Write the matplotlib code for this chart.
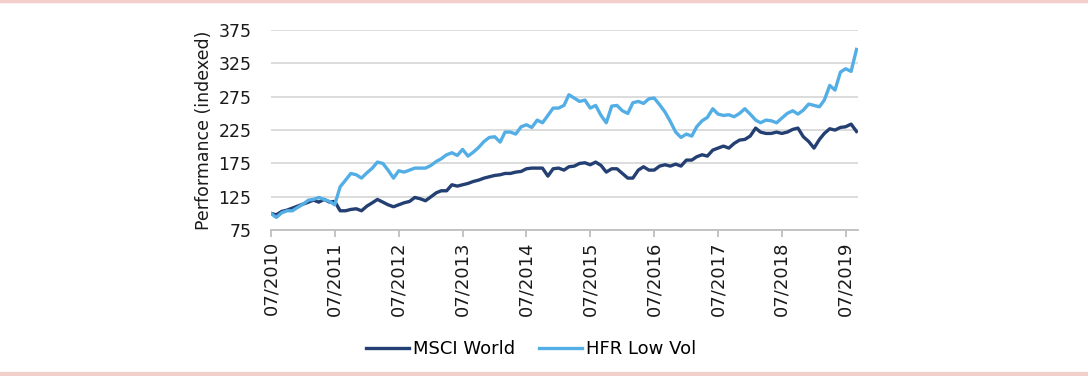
import numpy as np
import pandas as pd
import matplotlib
matplotlib.use('Agg')
import matplotlib.pyplot as plt
import matplotlib.dates as mdates
from matplotlib.lines import Line2D

# monthly index levels, 07/2010 .. 09/2019
dates = pd.date_range('2010-07-01', periods=111, freq='MS')

msci_world = [
    100, 98, 103, 105, 108, 111, 114, 117, 120, 117,
    121, 117, 118, 104, 104, 106, 107, 104, 111, 116,
    121, 117, 113, 110, 113, 116, 118, 124, 122, 119,
    125, 131, 134, 134, 143, 141, 143, 145, 148, 150,
    153, 155, 157, 158, 160, 160, 162, 163, 167, 168,
    168, 168, 156, 167, 168, 165, 170, 171, 175, 176,
    173, 177, 172, 162, 167, 167, 160, 153, 153, 165,
    170, 165, 165, 171, 173, 171, 174, 171, 180, 180,
    185, 188, 186, 195, 198, 201, 198, 205, 210, 211,
    216, 228, 222, 220, 220, 222, 220, 222, 226, 228,
    215, 208, 198, 211, 220, 227, 225, 229, 230, 234, 223,
]

hfr_low_vol = [
    100, 94, 101, 104, 104, 109, 114, 120, 121, 124,
    121, 118, 113, 140, 150, 160, 158, 153, 161, 168,
    177, 175, 165, 153, 164, 162, 165, 168, 168, 168,
    172, 178, 182, 188, 191, 187, 196, 186, 192, 199,
    208, 214, 215, 207, 222, 222, 219, 230, 233, 229,
    240, 236, 247, 258, 258, 262, 278, 273, 268, 270,
    258, 262, 247, 236, 261, 262, 254, 250, 266, 268,
    265, 272, 273, 263, 252, 238, 222, 214, 219, 216,
    230, 239, 244, 257, 249, 247, 248, 245, 250, 257,
    249, 240, 236, 240, 239, 236, 243, 250, 254, 249,
    255, 264, 262, 260, 270, 292, 285, 312, 317, 313, 346,
]

y_ticks = [75, 125, 175, 225, 275, 325, 375]
tick_years = list(range(2010, 2020))

plt.rcParams['font.family'] = ['DejaVu Sans']
fs = 12.5

fig = plt.figure(figsize=(10.88, 3.76), dpi=100)
ax = fig.add_axes([0.249, 0.388, 0.54, 0.532])

ax.plot(dates, msci_world, color='#243f72', lw=2.4, label='MSCI World',
        solid_joinstyle='round', zorder=3)
ax.plot(dates, hfr_low_vol, color='#53aee5', lw=2.4, label='HFR Low Vol',
        solid_joinstyle='round', zorder=3)

ax.set_ylim(75, 375)
ax.set_yticks(y_ticks)
ax.set_xlim(pd.Timestamp('2010-07-01'), pd.Timestamp('2019-09-12'))
ax.set_xticks([pd.Timestamp(f'{y}-07-01') for y in tick_years])
ax.xaxis.set_major_formatter(mdates.DateFormatter('%m/%Y'))

ax.grid(axis='y', color='#d9d9d9', lw=1.3)
ax.set_axisbelow(True)
for s in ['left', 'top', 'right']:
    ax.spines[s].set_visible(False)
ax.spines['bottom'].set_color('#bfbfbf')
ax.spines['bottom'].set_linewidth(1.3)

ax.tick_params(axis='y', length=0, pad=14, labelsize=fs, labelcolor='#1a1a1a')
ax.tick_params(axis='x', direction='out', length=5, width=1.3, color='#bfbfbf',
               pad=3, labelsize=13, labelcolor='#1a1a1a', labelrotation=90)
ax.set_ylabel('Performance (indexed)', fontsize=fs, labelpad=4, color='#1a1a1a')

fig.legend(loc='center', bbox_to_anchor=(0.488, 0.072), ncol=2, frameon=False,
           fontsize=13, handlelength=2.4, handletextpad=0.2, columnspacing=1.3)

# pink frame lines top and bottom
fig.add_artist(Line2D([0, 1], [0.997, 0.997], color='#f2cfcb', lw=2.5,
                      transform=fig.transFigure))
fig.add_artist(Line2D([0, 1], [0.006, 0.006], color='#f2cfcb', lw=3,
                      transform=fig.transFigure))

fig.savefig('out.png', dpi=100)
